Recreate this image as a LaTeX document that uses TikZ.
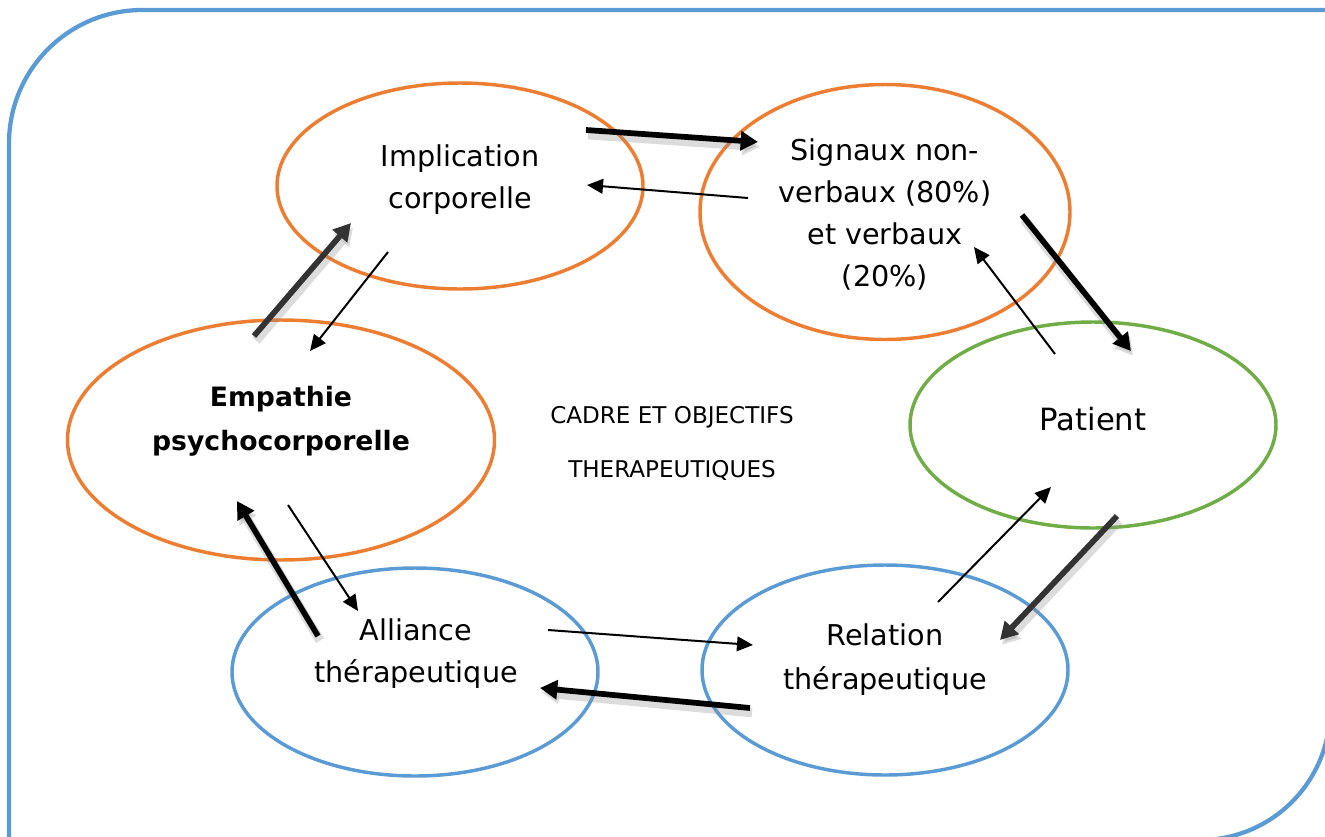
\documentclass[tikz,border=0pt]{standalone}
\usepackage{fontspec}
\setmainfont{DejaVu Sans}
\usetikzlibrary{positioning}
\usetikzlibrary{calc}
\usetikzlibrary{arrows.meta}
\usetikzlibrary{shapes.geometric}
\definecolor{framblue}{HTML}{5B9BD5}
\definecolor{ovorange}{HTML}{ED7D31}
\definecolor{ovgreen}{HTML}{70AD47}
\definecolor{ovblue}{HTML}{5B9BD5}
\tikzset{bubble/.style={ellipse, draw, line width=2.6pt, inner sep=0pt, minimum width=274.5pt, minimum height=154.5pt}}
\tikzset{word/.style={align=center, font=\fontsize{21.5}{31.5}\selectfont}}
\tikzset{thin/.style={line width=1.5pt, -{Triangle[length=12pt,width=11pt]}}}
\tikzset{heavy/.style={line width=4.3pt, -{Triangle[length=13pt,width=14pt]},
    preaction={draw=black!45, opacity=.3, line width=7pt, transform canvas={shift={(1.5pt,-3.5pt)}}}}}

\begin{document}
\begin{tikzpicture}[x=0.75pt, y=-0.75pt]

    \clip (0,0) rectangle (1325,836);

    % Frame
    \draw [framblue, line width=3.2pt, rounded corners=100pt] (9,860) -- (9,10) -- (1360,10);
    \draw [framblue, line width=3.2pt, rounded corners=97.5pt] (1330,-20) -- (1330,840) -- (-20,840);

    % Ellipses
    \node [bubble, draw=ovorange] (impl) at (460,186) {};
    \node [bubble, draw=ovorange, minimum width=277.5pt, minimum height=191.25pt] (sig) at (885,212) {};
    \node [bubble, draw=ovorange, minimum width=320.25pt, minimum height=180pt] (emp) at (281,440) {};
    \node [bubble, draw=ovgreen] (pat) at (1093,425) {};
    \node [bubble, draw=ovblue, minimum height=156pt] (all) at (415,672) {};
    \node [bubble, draw=ovblue, minimum height=157.5pt] (rel) at (885,670) {};

    % Texts
    \node [word] (implT) at (460,180) {Implication\\corporelle};
    \node [word] (sigT) at (885,214) {Signaux non-\\verbaux (80\%)\\et verbaux\\(20\%)};
    \node [word, font=\bfseries\fontsize{20}{33}\selectfont] (empT) at (281,421) {Empathie\\psychocorporelle};
    \node [word, font=\fontsize{23}{31.5}\selectfont] (patT) at (1093,419) {Patient};
    \node [word] (allT) at (416,654) {Alliance\\thérapeutique};
    \node [word, font=\fontsize{21.5}{33}\selectfont] (relT) at (885,660) {Relation\\thérapeutique};
    \node [word, font=\fontsize{17.3}{40.5}\selectfont] (cadre) at (672,443) {CADRE ET OBJECTIFS\\THERAPEUTIQUES};

    % Arrow ends
    \coordinate (a1s) at (586,130);  \coordinate (a1e) at (758,142);
    \coordinate (a2s) at (1022,215); \coordinate (a2e) at (1131,351);
    \coordinate (a3s) at (1117,516); \coordinate (a3e) at (1000,640);
    \coordinate (a4s) at (750,708);  \coordinate (a4e) at (540,688);
    \coordinate (a5s) at (318,636);  \coordinate (a5e) at (237,501);
    \coordinate (a6s) at (254,336);  \coordinate (a6e) at (351,223);

    \coordinate (b1s) at (748,198);  \coordinate (b1e) at (587,185);
    \coordinate (b2s) at (1055,354); \coordinate (b2e) at (974,247);
    \coordinate (b3s) at (938,602);  \coordinate (b3e) at (1051,487);
    \coordinate (b4s) at (548,630);  \coordinate (b4e) at (753,645);
    \coordinate (b5s) at (288,505);  \coordinate (b5e) at (358,611);
    \coordinate (b6s) at (388,252);  \coordinate (b6e) at (310,351);

    % Thick arrows
    \draw [heavy] (a1s) -- (a1e);
    \draw [heavy] (a2s) -- (a2e);
    \draw [heavy, black!80] (a3s) -- (a3e);
    \draw [heavy] (a4s) -- (a4e);
    \draw [heavy] (a5s) -- (a5e);
    \draw [heavy, black!80] (a6s) -- (a6e);

    % Thin arrows
    \draw [thin] (b1s) -- (b1e);
    \draw [thin] (b2s) -- (b2e);
    \draw [thin] (b3s) -- (b3e);
    \draw [thin] (b4s) -- (b4e);
    \draw [thin] (b5s) -- (b5e);
    \draw [thin] (b6s) -- (b6e);

\end{tikzpicture}
\end{document}
